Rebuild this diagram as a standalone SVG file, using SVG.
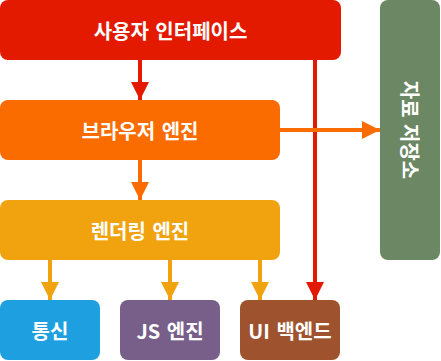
<svg xmlns="http://www.w3.org/2000/svg" width="441" height="361" viewBox="0 0 441 361">
<style>
text{font-family:"Noto Sans CJK KR","Noto Sans",sans-serif;font-weight:bold;font-size:20px;fill:#fff;text-anchor:middle;dominant-baseline:central}
.red{stroke:#e31a00;stroke-width:4;fill:none}
.org{stroke:#fb6c00;stroke-width:4;fill:none}
.gold{stroke:#f0a30e;stroke-width:4;fill:none}
</style>
<defs>
<marker id="hr" viewBox="0 0 10 10" refX="10" refY="5" markerWidth="4.5" markerHeight="4.5" orient="auto" markerUnits="strokeWidth"><path d="M0,0L10,5L0,10z" fill="#e31a00"/></marker>
<marker id="ho" viewBox="0 0 10 10" refX="10" refY="5" markerWidth="4.5" markerHeight="4.5" orient="auto" markerUnits="strokeWidth"><path d="M0,0L10,5L0,10z" fill="#fb6c00"/></marker>
<marker id="hg" viewBox="0 0 10 10" refX="10" refY="5" markerWidth="4.5" markerHeight="4.5" orient="auto" markerUnits="strokeWidth"><path d="M0,0L10,5L0,10z" fill="#f0a30e"/></marker>
</defs>
<g id="connectors">
<path class="red" d="M140,60V100" marker-end="url(#hr)"/>
<path class="red" d="M315,60V300" marker-end="url(#hr)"/>
<path class="org" d="M140,160V200" marker-end="url(#ho)"/>
<path class="org" d="M280,130H380" marker-end="url(#ho)"/>
<path class="gold" d="M50,260V300" marker-end="url(#hg)"/>
<path class="gold" d="M170,260V300" marker-end="url(#hg)"/>
<path class="gold" d="M260,260V300" marker-end="url(#hg)"/>
</g>
<g id="ui"><rect x="0" y="0" width="341" height="60" rx="8" fill="#e31a00"/><text x="170.5" y="30" word-spacing="2">사용자 인터페이스</text></g>
<g id="browser"><rect x="0" y="100" width="280" height="60" rx="8" fill="#fb6c00"/><text x="140" y="130" word-spacing="2">브라우저 엔진</text></g>
<g id="render"><rect x="0" y="200" width="280" height="60" rx="8" fill="#f0a30e"/><text x="140" y="230" word-spacing="2">렌더링 엔진</text></g>
<g id="net"><rect x="0" y="300" width="100" height="60" rx="8" fill="#1ea0e0"/><text x="50" y="330">통신</text></g>
<g id="js"><rect x="120" y="300" width="100" height="60" rx="8" fill="#775f8a"/><text x="170" y="330" word-spacing="2">JS 엔진</text></g>
<g id="uib"><rect x="240" y="300" width="100" height="60" rx="8" fill="#9e522d"/><text x="290" y="330" word-spacing="2">UI 백엔드</text></g>
<g id="storage"><rect x="380" y="0" width="60" height="260" rx="8" fill="#6c8763"/><text x="0" y="0" transform="translate(410,130) rotate(90)" word-spacing="2">자료 저장소</text></g>
</svg>
